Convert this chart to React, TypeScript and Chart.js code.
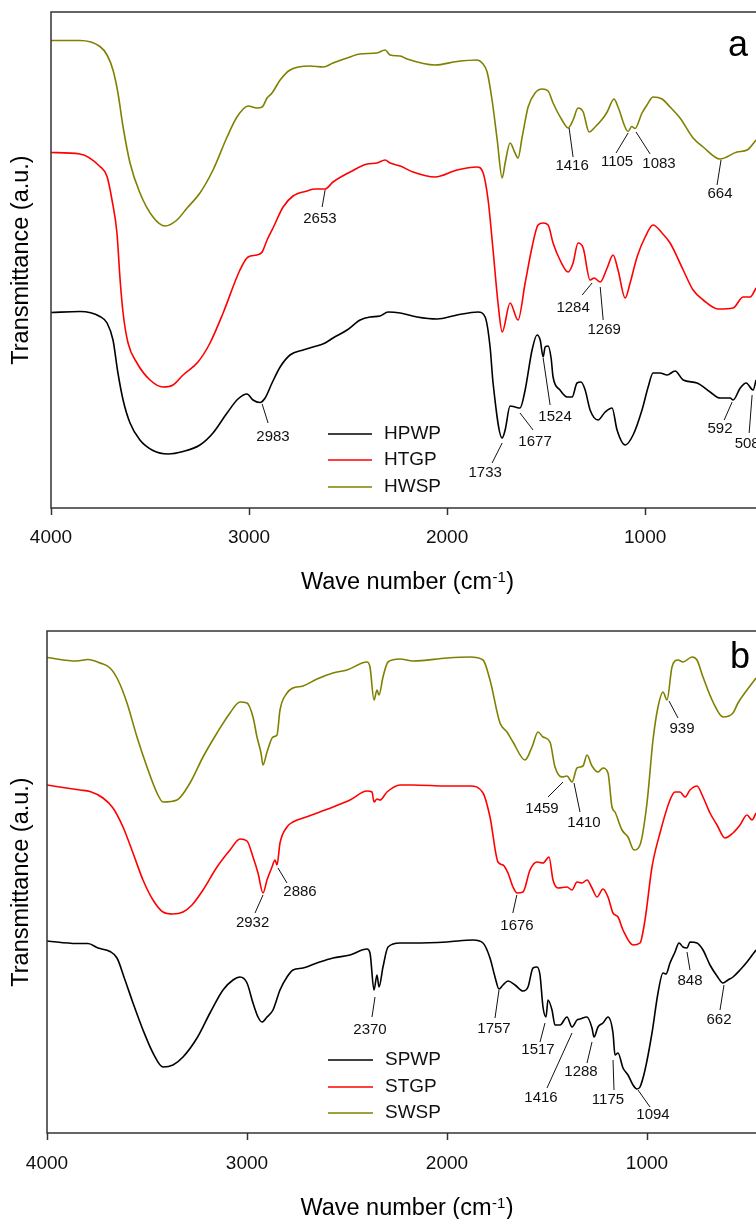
import React, { useEffect, useRef } from "react";
import { Chart, registerables } from "chart.js";

Chart.register(...registerables);

const FONT = "'Liberation Sans', Arial, Helvetica, sans-serif";

// x-axis tick labels (wave number, cm-1)
const WAVE_TICKS = [4000, 3000, 2000, 1000];

const SERIES_A = ["HPWP", "HTGP", "HWSP"];
const SERIES_B = ["SPWP", "STGP", "SWSP"];
const COLORS = ["#000000", "#ff0000", "#808000"];

// ---- Panel a : [wave number, transmittance (a.u.)] ----
const HPWP: number[][] = [
  [4000, 39.1], [3854, 39.3], [3753, 38.3], [3717, 37], [3687, 33.6], [3662, 27], [3636, 21.6], [3601, 17],
  [3551, 13.6], [3485, 11.5], [3409, 10.8], [3333, 11.3], [3248, 12.6], [3182, 15], [3111, 19], [3056, 21.8],
  [3010, 22.8], [2980, 21.6], [2945, 21.1], [2919, 22], [2884, 25], [2843, 28.2], [2793, 30.6], [2727, 31.6],
  [2677, 32.2], [2616, 33], [2576, 34], [2505, 35.6], [2439, 37.6], [2389, 38.2], [2339, 38.4], [2298, 39.2],
  [2237, 39], [2152, 38.2], [2051, 37.8], [1950, 38.6], [1844, 39.2], [1808, 38.2], [1783, 32.2], [1768, 25],
  [1722, 14], [1707, 15.6], [1682, 20.4], [1657, 20.2], [1632, 20], [1606, 23.6], [1571, 31.6], [1546, 34.6],
  [1530, 33.6], [1515, 30.2], [1505, 32.2], [1490, 32.4], [1475, 30], [1465, 26.2], [1430, 23.6], [1394, 22.2],
  [1369, 22.2], [1344, 25], [1324, 25.2], [1303, 23.6], [1278, 19.6], [1238, 17.6], [1202, 19.2], [1167, 20],
  [1142, 15.6], [1101, 12.6], [1061, 14.6], [1016, 19.6], [985, 24.2], [960, 27], [925, 27], [889, 26.6],
  [849, 27.4], [808, 25.6], [738, 25], [672, 23.2], [622, 22], [571, 22], [556, 21.6], [520, 24], [490, 25],
  [455, 23.6], [440, 25.6],
];

const HTGP: number[][] = [
  [4000, 71.1], [3854, 70.8], [3753, 68.3], [3717, 66.3], [3692, 61.6], [3667, 55], [3651, 45.6], [3636, 39],
  [3611, 33], [3566, 29], [3500, 25.6], [3434, 24.2], [3384, 24.6], [3333, 26.6], [3258, 29.2], [3197, 33],
  [3131, 39], [3046, 47.6], [3005, 50.2], [2960, 50.6], [2934, 51.2], [2909, 53.6], [2879, 56], [2828, 60.2],
  [2778, 62.4], [2707, 63.4], [2667, 63.8], [2616, 63.8], [2576, 65.2], [2490, 67.2], [2404, 68.8], [2354, 69],
  [2313, 69.6], [2288, 69], [2237, 68.4], [2172, 67.2], [2061, 66.2], [1950, 67.6], [1849, 68.2], [1818, 67],
  [1793, 61.6], [1768, 51.6], [1743, 41], [1722, 35.2], [1682, 41], [1642, 37.6], [1606, 45], [1571, 52.2],
  [1541, 56.6], [1515, 57], [1490, 56.6], [1465, 53], [1430, 49.6], [1389, 47.2], [1364, 49], [1339, 53],
  [1313, 52], [1278, 45.6], [1258, 46], [1227, 45.2], [1192, 48], [1162, 50.6], [1137, 47.6], [1101, 42],
  [1076, 45], [1041, 50.2], [1000, 54.2], [960, 56.6], [915, 55], [874, 53], [808, 47.6], [758, 43.6],
  [707, 41.6], [632, 39.8], [556, 40], [505, 42.2], [470, 42.2], [440, 44],
];

const HWSP: number[][] = [
  [4000, 93.5], [3854, 93.5], [3753, 92.3], [3717, 90.6], [3687, 87.6], [3662, 83], [3636, 76.2], [3601, 69],
  [3551, 63], [3485, 58.2], [3424, 56.4], [3364, 57.6], [3313, 60], [3248, 63], [3182, 67.6], [3111, 74.2],
  [3061, 78.2], [3005, 80.4], [2960, 80], [2934, 80.2], [2909, 82], [2884, 83], [2843, 85.6], [2793, 87.6],
  [2692, 88.4], [2626, 88.2], [2576, 89], [2505, 90], [2439, 90.8], [2354, 91], [2313, 91.6], [2288, 90.6],
  [2237, 90.4], [2202, 89.8], [2061, 88.6], [1950, 89.3], [1849, 89.6], [1823, 89], [1798, 87.2], [1773, 81.6],
  [1747, 73.6], [1722, 66], [1707, 69], [1682, 73], [1657, 71], [1642, 70], [1621, 74.2], [1591, 80.2],
  [1556, 83], [1520, 83.8], [1490, 83.4], [1465, 81], [1420, 77.6], [1389, 76], [1364, 77.6], [1339, 80],
  [1313, 79.2], [1283, 75.2], [1253, 76.2], [1212, 78], [1192, 79.2], [1157, 81.8], [1137, 80.2], [1086, 75.3],
  [1068, 76.3], [1051, 75.9], [1017, 78.9], [991, 80.6], [960, 82.2], [915, 81.8], [874, 80.2], [824, 78],
  [758, 74], [707, 72.2], [622, 69.8], [536, 71.2], [485, 71.6], [440, 73.6],
];

// ---- Panel b ----
const SPWP: number[][] = [
  [4000, 38.4], [3852, 37.9], [3795, 37.9], [3745, 37], [3685, 36.3], [3650, 35], [3610, 30.6], [3570, 26],
  [3520, 20.6], [3470, 16], [3420, 13.2], [3370, 13.6], [3320, 15.2], [3250, 19], [3185, 24], [3120, 28.6],
  [3070, 30.6], [3035, 31.2], [3000, 30], [2970, 26], [2945, 23.2], [2925, 22.2], [2900, 23.2], [2870, 24.6],
  [2835, 28.6], [2800, 31.2], [2770, 32.6], [2720, 33], [2650, 34], [2570, 35], [2485, 35.6], [2400, 36.8],
  [2385, 36], [2365, 28.6], [2350, 31.6], [2340, 29.2], [2320, 33.2], [2295, 37.2], [2235, 38], [2170, 38],
  [2000, 38.2], [1870, 38.6], [1820, 38], [1785, 35], [1760, 31.2], [1740, 28.8], [1720, 29.6], [1695, 30.4],
  [1660, 29.6], [1620, 28.4], [1595, 29.2], [1570, 33], [1550, 33.2], [1535, 31.6], [1520, 25.2], [1505, 23.2],
  [1495, 26.6], [1475, 24.6], [1460, 21.6], [1435, 21.6], [1400, 23.2], [1375, 21.2], [1350, 22.6], [1335, 22.8],
  [1300, 23.2], [1275, 21], [1265, 19.2], [1245, 21.2], [1220, 22], [1195, 23.2], [1170, 20], [1160, 15.6],
  [1145, 16], [1120, 13], [1095, 11.6], [1070, 9.6], [1050, 8.8], [1035, 9.2], [1010, 12.6], [975, 20],
  [945, 28], [920, 32], [905, 31.8], [885, 34], [860, 36.2], [840, 38], [820, 37.2], [800, 37], [785, 38.2],
  [750, 38], [720, 36.6], [685, 33.6], [650, 31.4], [620, 30], [595, 30.6], [570, 31.2], [535, 32.6],
  [500, 34.2], [455, 36.6],
];

const STGP: number[][] = [
  [4000, 69.6], [3835, 68.6], [3785, 68.3], [3720, 67], [3670, 65], [3620, 61.2], [3570, 56], [3520, 50.6],
  [3470, 46.6], [3420, 44.2], [3370, 43.8], [3320, 44.2], [3275, 45.6], [3220, 48.6], [3150, 53.2], [3085, 56.6],
  [3035, 58.8], [3000, 58.4], [2970, 55.2], [2945, 52], [2920, 48], [2900, 50.6], [2875, 53.2], [2860, 54.6],
  [2850, 53.6], [2835, 58], [2800, 61.2], [2770, 62.2], [2720, 63], [2650, 64], [2570, 65.2], [2485, 66.6],
  [2400, 68.4], [2375, 68.2], [2365, 66.2], [2350, 66.8], [2335, 66.6], [2300, 68.2], [2235, 69.6], [2170, 69.6],
  [2000, 69.4], [1885, 69.4], [1820, 68], [1785, 63.2], [1745, 54.2], [1720, 53.6], [1695, 52], [1670, 49.2],
  [1650, 48], [1620, 48.2], [1585, 52.6], [1550, 54.2], [1520, 54], [1490, 55.2], [1470, 50.6], [1445, 49],
  [1400, 49.2], [1375, 48.6], [1350, 50.2], [1325, 50], [1300, 50.6], [1275, 49], [1250, 47.2], [1220, 48.8],
  [1195, 47.2], [1170, 44], [1145, 43.2], [1120, 40.6], [1070, 37.6], [1035, 38], [1010, 42.6], [975, 53.2],
  [935, 60], [885, 66.6], [860, 68.2], [835, 68.2], [810, 67.2], [785, 68.6], [750, 69.4], [720, 67.2],
  [685, 64], [650, 61.6], [610, 59], [570, 60], [535, 61.6], [500, 63.6], [475, 62.6], [455, 64],
];

const SWSP: number[][] = [
  [4000, 95.1], [3852, 94.4], [3795, 94.7], [3735, 94], [3685, 93], [3645, 90.6], [3600, 86], [3550, 79.2],
  [3500, 73.2], [3450, 68], [3420, 66.2], [3350, 66.6], [3285, 70], [3220, 75.2], [3150, 80], [3085, 84],
  [3035, 86.2], [3000, 86], [2970, 83.2], [2950, 79.2], [2930, 76], [2920, 73.6], [2900, 76.2], [2870, 79.2],
  [2850, 79.6], [2835, 84.6], [2800, 88], [2770, 89], [2720, 89.4], [2650, 90.8], [2570, 92], [2500, 92.6],
  [2400, 94.2], [2385, 93.2], [2365, 86.6], [2350, 88.6], [2340, 87.6], [2320, 91.2], [2295, 94.2], [2235, 94.8],
  [2170, 94.4], [2000, 95], [1885, 95.2], [1820, 94.6], [1785, 90.6], [1735, 82], [1700, 80.2], [1670, 78.2],
  [1610, 74.6], [1575, 77.2], [1545, 80.2], [1520, 79.2], [1485, 78.2], [1460, 73.2], [1425, 71.2], [1400, 71.4],
  [1375, 70.2], [1350, 73], [1320, 73.4], [1300, 75.6], [1275, 73.4], [1245, 72.2], [1220, 73], [1195, 72],
  [1175, 65.2], [1160, 64.2], [1125, 60.6], [1095, 59.2], [1065, 56.6], [1035, 57.6], [1000, 66], [970, 78.6],
  [945, 85.2], [920, 88.2], [900, 86.6], [875, 93.2], [845, 94.6], [820, 94.2], [775, 95.2], [750, 94.6],
  [720, 91.2], [670, 86.2], [620, 83.2], [570, 84], [545, 86], [500, 88.6], [455, 91],
];

// peak labels: [text, textX, textY, lineX1, lineY1, lineX2, lineY2] in data units
type Peak = [string, number, number, number, number, number, number];

const PEAKS_A: Peak[] = [
  ["2653", 2642, 57.8, 2616, 63.6, 2631, 60.2],
  ["2983", 2879, 14.2, 2934, 20.8, 2904, 17],
  ["1416", 1369, 68.4, 1384, 76, 1364, 70.2],
  ["1105", 1142, 69.2, 1086, 75, 1147, 71],
  ["1083", 930, 68.8, 1046, 75.2, 975, 70.8],
  ["664", 622, 62.8, 617, 69.6, 637, 64.6],
  ["1284", 1364, 40, 1268, 45, 1318, 42.6],
  ["1269", 1207, 35.6, 1227, 44.2, 1212, 37.6],
  ["1733", 1808, 7, 1722, 13, 1773, 9],
  ["1677", 1556, 13.2, 1632, 19, 1566, 15.6],
  ["1524", 1455, 18.2, 1515, 30, 1480, 20.6],
  ["592", 622, 15.8, 561, 21.2, 601, 17.6],
  ["508", 485, 12.8, 460, 22.6, 475, 15],
];

const PEAKS_B: Peak[] = [
  ["2932", 2972, 42, 2920, 47.6, 2960, 44],
  ["2886", 2735, 48.2, 2845, 53, 2800, 50],
  ["2370", 2385, 20.6, 2360, 27.2, 2375, 23.2],
  ["1676", 1650, 41.4, 1651, 47.6, 1671, 44],
  ["1459", 1525, 64.8, 1420, 70.2, 1495, 67.2],
  ["1410", 1315, 62, 1365, 70, 1335, 64.2],
  ["939", 825, 80.8, 890, 86.4, 845, 83],
  ["1757", 1765, 20.8, 1740, 28.6, 1760, 23],
  ["1517", 1545, 16.6, 1510, 22, 1535, 18.2],
  ["1416", 1530, 7, 1375, 20, 1500, 9],
  ["1288", 1330, 12.2, 1275, 18.2, 1300, 14],
  ["1175", 1195, 6.6, 1170, 14.6, 1165, 8.6],
  ["1094", 970, 3.6, 1045, 8.6, 985, 5.2],
  ["848", 785, 30.4, 800, 36.2, 785, 32.6],
  ["662", 640, 22.6, 615, 29.6, 635, 24.6],
];

interface PanelCfg {
  names: string[];
  series: number[][][];
  peaks: Peak[];
  letter: string;
  letterAt: number[];
  yMax: number;
  yAxisWidth: number;
  xScaleHeight: number;
  padTop: number;
  tickPad: number;
  legendLine: number[]; // offsets from chart-area left
  legendText: number;
  legendRows: number[]; // offsets from chart-area bottom
  titleDy: number;
}

function makeChart(canvas: HTMLCanvasElement, cfg: PanelCfg) {
  const decor = {
    id: "decor",
    afterDatasetsDraw(chart: any) {
      const { ctx, chartArea: ca, scales } = chart;
      const xs = scales.x;
      const ys = scales.y;
      ctx.save();
      // frame
      ctx.strokeStyle = "#333333";
      ctx.lineWidth = 1.5;
      ctx.strokeRect(ca.left, ca.top, ca.right - ca.left, ca.bottom - ca.top);

      // peak labels
      ctx.strokeStyle = "#111111";
      ctx.lineWidth = 1;
      ctx.fillStyle = "#111111";
      ctx.font = `15px ${FONT}`;
      ctx.textAlign = "center";
      ctx.textBaseline = "middle";
      for (const p of cfg.peaks) {
        ctx.beginPath();
        ctx.moveTo(xs.getPixelForValue(p[3]), ys.getPixelForValue(p[4]));
        ctx.lineTo(xs.getPixelForValue(p[5]), ys.getPixelForValue(p[6]));
        ctx.stroke();
        ctx.fillText(p[0], xs.getPixelForValue(p[1]), ys.getPixelForValue(p[2]));
      }

      // legend
      ctx.font = `19px ${FONT}`;
      ctx.textAlign = "left";
      cfg.names.forEach((n, i) => {
        const y = ca.bottom + cfg.legendRows[i];
        ctx.strokeStyle = COLORS[i];
        ctx.lineWidth = 1.6;
        ctx.beginPath();
        ctx.moveTo(ca.left + cfg.legendLine[0], y);
        ctx.lineTo(ca.left + cfg.legendLine[1], y);
        ctx.stroke();
        ctx.fillStyle = "#111111";
        ctx.fillText(n, ca.left + cfg.legendText, y);
      });

      // panel letter
      ctx.font = `36px ${FONT}`;
      ctx.textAlign = "center";
      ctx.fillStyle = "#000000";
      ctx.fillText(cfg.letter, xs.getPixelForValue(cfg.letterAt[0]), ys.getPixelForValue(cfg.letterAt[1]));

      // y title
      ctx.save();
      ctx.translate(22, (ca.top + ca.bottom) / 2);
      ctx.rotate(-Math.PI / 2);
      ctx.font = `23.5px ${FONT}`;
      ctx.textAlign = "center";
      ctx.fillText("Transmittance (a.u.)", 0, 0);
      ctx.restore();

      // x title with superscript
      const main = `23.5px ${FONT}`;
      const sup = `15px ${FONT}`;
      const t1 = "Wave number (cm";
      const t2 = "-1";
      const t3 = ")";
      ctx.font = main;
      const w1 = ctx.measureText(t1).width;
      const w3 = ctx.measureText(t3).width;
      ctx.font = sup;
      const w2 = ctx.measureText(t2).width;
      const total = w1 + w2 + w3 + 1;
      let x = (ca.left + ca.right) / 2 - total / 2;
      const yb = ca.bottom + cfg.titleDy + 8;
      ctx.textAlign = "left";
      ctx.textBaseline = "alphabetic";
      ctx.font = main;
      ctx.fillText(t1, x, yb);
      x += w1 + 0.5;
      ctx.font = sup;
      ctx.fillText(t2, x, yb - 7);
      x += w2 + 0.5;
      ctx.font = main;
      ctx.fillText(t3, x, yb);
      ctx.restore();
    },
  };

  return new Chart(canvas, {
    type: "line",
    data: {
      datasets: cfg.series.map((s, i) => ({
        label: cfg.names[i],
        data: s.map(([x, y]) => ({ x, y })),
        borderColor: COLORS[i],
        borderWidth: 1.6,
        pointRadius: 0,
        fill: false,
        cubicInterpolationMode: "monotone" as const,
      })),
    },
    options: {
      responsive: false,
      animation: false,
      events: [],
      layout: { padding: { top: cfg.padTop, left: 0, right: 0, bottom: 0 } },
      plugins: { legend: { display: false }, tooltip: { enabled: false } },
      scales: {
        x: {
          type: "linear",
          reverse: true,
          min: 400,
          max: 4000,
          afterBuildTicks: (s: any) => {
            s.ticks = WAVE_TICKS.map((v) => ({ value: v }));
          },
          afterFit: (s: any) => {
            s.height = cfg.xScaleHeight;
          },
          ticks: {
            font: { family: FONT, size: 19 },
            color: "#111111",
            padding: cfg.tickPad,
            maxRotation: 0,
            autoSkip: false,
            callback: (v: any) => String(v),
          },
          grid: {
            display: true,
            drawOnChartArea: false,
            drawTicks: true,
            tickLength: 7,
            tickColor: "#333333",
            tickWidth: 1.5,
          },
          border: { display: false },
        },
        y: {
          type: "linear",
          min: 0,
          max: cfg.yMax,
          ticks: { display: false },
          grid: { display: false },
          border: { display: false },
          afterFit: (s: any) => {
            s.width = cfg.yAxisWidth;
          },
        },
      },
    },
    plugins: [decor],
  } as any);
}

export default function App() {
  const refA = useRef<HTMLCanvasElement>(null);
  const refB = useRef<HTMLCanvasElement>(null);

  useEffect(() => {
    const a = makeChart(refA.current!, {
      names: SERIES_A,
      series: [HPWP, HTGP, HWSP],
      peaks: PEAKS_A,
      letter: "a",
      letterAt: [531, 92.4],
      yMax: 99.2,
      yAxisWidth: 51,
      xScaleHeight: 102,
      padTop: 12,
      tickPad: 11.5,
      legendLine: [277, 321],
      legendText: 333,
      legendRows: [-74, -48, -21],
      titleDy: 73,
    });
    const b = makeChart(refB.current!, {
      names: SERIES_B,
      series: [SPWP, STGP, SWSP],
      peaks: PEAKS_B,
      letter: "b",
      letterAt: [535, 95],
      yMax: 100.4,
      yAxisWidth: 47,
      xScaleHeight: 86,
      padTop: 16,
      tickPad: 12,
      legendLine: [281, 326],
      legendText: 338,
      legendRows: [-73, -46, -20],
      titleDy: 73.5,
    });
    return () => {
      a.destroy();
      b.destroy();
    };
  }, []);

  return (
    <div
      style={{
        position: "fixed",
        left: 0,
        top: 0,
        width: 756,
        height: 1219,
        overflow: "hidden",
        background: "#ffffff",
      }}
    >
      <canvas
        ref={refA}
        width={764}
        height={610}
        style={{ position: "absolute", left: 0, top: 0, width: 764, height: 610 }}
      />
      <canvas
        ref={refB}
        width={767}
        height={604}
        style={{ position: "absolute", left: 0, top: 615, width: 767, height: 604 }}
      />
    </div>
  );
}
